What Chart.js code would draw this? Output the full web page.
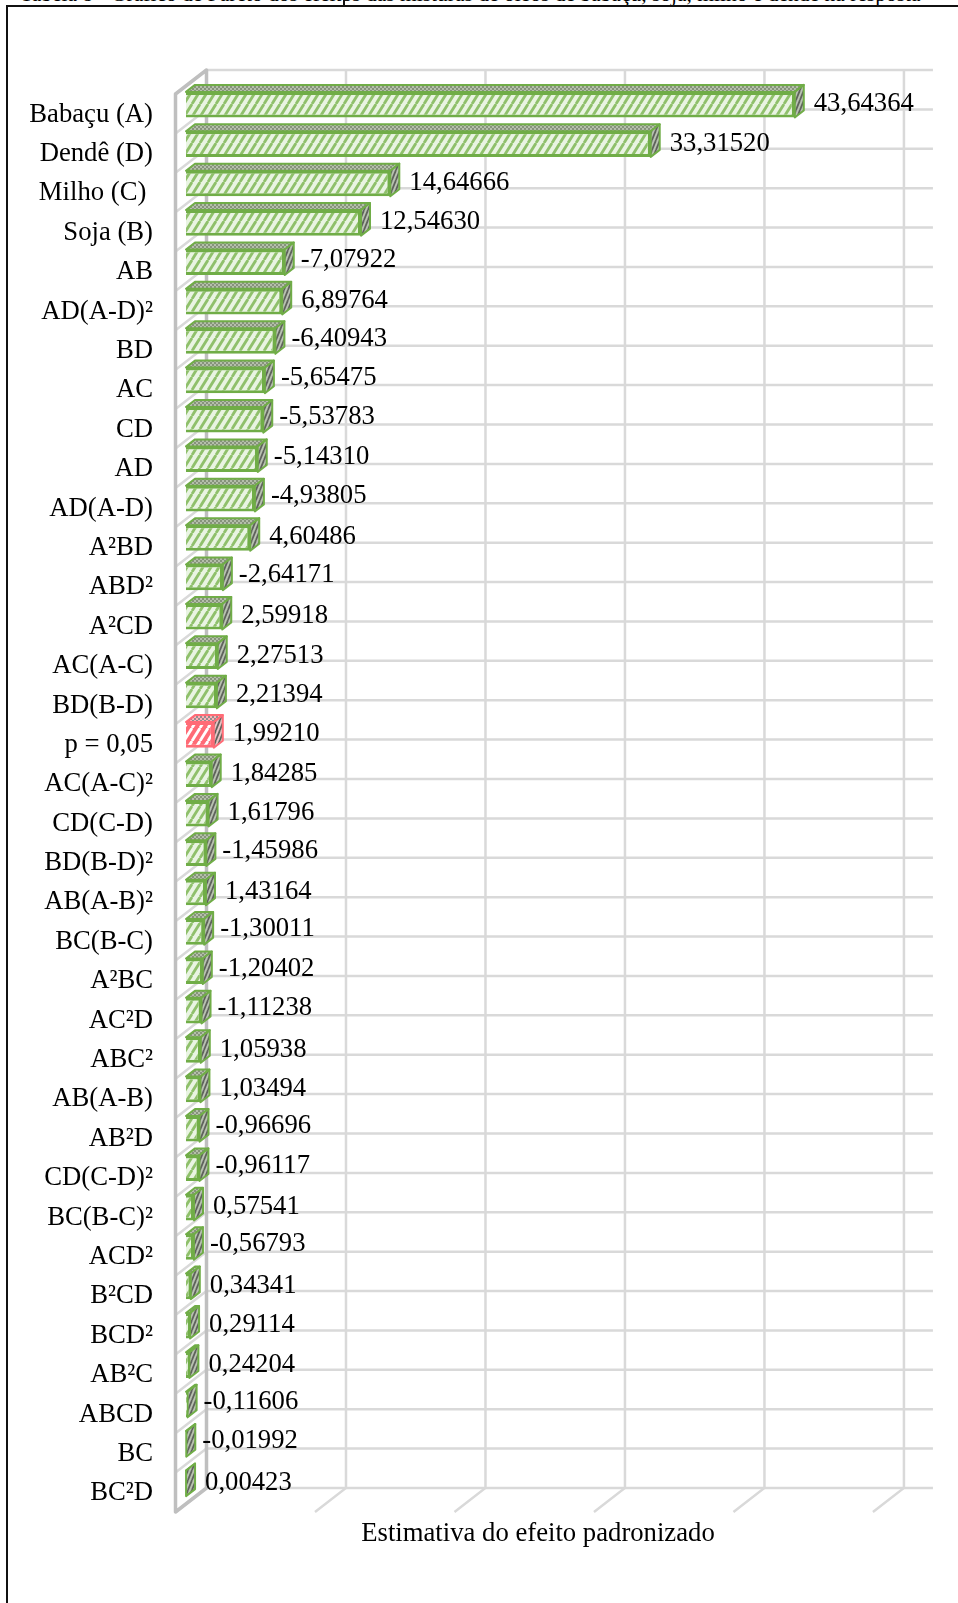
<!DOCTYPE html>
<html lang="pt">

<head>
    <meta charset="UTF-8">
    <title>Estimativa do efeito padronizado</title>
    <script src="https://cdn.jsdelivr.net/npm/chart.js@4/dist/chart.umd.min.js"></script>
    <style>
        html, body { margin: 0; background: #fff; overflow: hidden; }
        #page { position: relative; width: 958px; height: 1603px; overflow: hidden; }
        #caption { position: absolute; left: 20px; top: -18px; white-space: nowrap; font: 21.5px "Liberation Serif", serif; color: #000; }
        #box { position: absolute; left: 6px; top: 5px; width: 960px; height: 1610px; border: 2px solid #111; }
        #notch { position: absolute; left: 343px; top: 0; width: 2px; height: 6px; background: #111; }
        canvas { position: absolute; left: 0; top: 0; }
    </style>
</head>

<body>
    <div id="page">
        <div id="caption">Tabela 8 - Gráfico de Pareto dos efeitos das misturas de óleos de babaçu, soja, milho e dendê na resposta</div>
        <div id="notch"></div>
        <div id="box"></div>
        <canvas id="chart" width="958" height="1603"></canvas>
    </div>
    <script>
        const categories = ['Babaçu (A)', 'Dendê (D)', 'Milho (C) ', 'Soja (B)', 'AB', 'AD(A-D)²', 'BD', 'AC', 'CD', 'AD',
            'AD(A-D)', 'A²BD', 'ABD²', 'A²CD', 'AC(A-C)', 'BD(B-D)', 'p = 0,05', 'AC(A-C)²', 'CD(C-D)', 'BD(B-D)²',
            'AB(A-B)²', 'BC(B-C)', 'A²BC', 'AC²D', 'ABC²', 'AB(A-B)', 'AB²D', 'CD(C-D)²', 'BC(B-C)²', 'ACD²',
            'B²CD', 'BCD²', 'AB²C', 'ABCD', 'BC', 'BC²D'];
        const effects = [43.64364, 33.31520, 14.64666, 12.54630, -7.07922, 6.89764, -6.40943, -5.65475, -5.53783, -5.14310,
            -4.93805, 4.60486, -2.64171, 2.59918, 2.27513, 2.21394, 1.99210, 1.84285, 1.61796, -1.45986,
            1.43164, -1.30011, -1.20402, -1.11238, 1.05938, 1.03494, -0.96696, -0.96117, 0.57541, -0.56793,
            0.34341, 0.29114, 0.24204, -0.11606, -0.01992, 0.00423];
        const wallTicks = [0, 10, 20, 30, 40, 50];
        const axisTitle = 'Estimativa do efeito padronizado';
        const pLimit = 'p = 0,05';

        const serif = '"Liberation Serif", serif';
        const fontSize = 26.7;
        const green = '#70ad47';
        const red = '#ff6b76';

        // tiled fills, like the Excel pattern fills on the bars
        function stripes(fg, bg, w, h, width) {
            const c = document.createElement('canvas');
            c.width = w;
            c.height = h;
            const g = c.getContext('2d');
            g.fillStyle = bg;
            g.fillRect(0, 0, w, h);
            g.strokeStyle = fg;
            g.lineWidth = width;
            [-w, 0, w].forEach(d => {
                g.beginPath();
                g.moveTo(d, h);
                g.lineTo(d + w, 0);
                g.stroke();
            });
            return g.createPattern(c, 'repeat');
        }

        function dots(fg, bg) {
            const c = document.createElement('canvas');
            c.width = c.height = 4;
            const g = c.getContext('2d');
            g.fillStyle = bg;
            g.fillRect(0, 0, 4, 4);
            g.fillStyle = fg;
            g.fillRect(0, 0, 2, 2);
            g.fillRect(2, 2, 2, 2);
            return g.createPattern(c, 'repeat');
        }

        const hatchGreen = stripes('#8fc06b', '#e9f4e2', 8, 13, 2.8);
        const hatchRed = stripes('#ffffff', '#ff6b76', 8, 13, 2.8);
        const topGreen = dots('#86937b', '#b4bfaa');
        const topRed = dots('#8f8f8f', '#ffb0b6');
        const sideGreen = stripes('#5f635c', '#b9c2b2', 4, 10, 1.8);
        const sideRed = stripes('#5f635c', '#e8c4c6', 4, 10, 1.8);

        const isLimit = i => categories[i] === pLimit;

        function poly(ctx, pts, fill, stroke, width) {
            ctx.beginPath();
            pts.forEach((p, i) => i ? ctx.lineTo(p[0], p[1]) : ctx.moveTo(p[0], p[1]));
            ctx.closePath();
            if (fill) { ctx.fillStyle = fill; ctx.fill(); }
            if (stroke) { ctx.strokeStyle = stroke; ctx.lineWidth = width; ctx.lineJoin = 'round'; ctx.stroke(); }
        }

        // back wall, floor and side wall of the fake 3D box, then the bar tops and sides
        const box3d = {
            id: 'box3d',
            beforeDatasetsDraw(chart) {
                const ctx = chart.ctx, xs = chart.scales.x, ys = chart.scales.y;
                const backX = v => xs.getPixelForValue(v) + 20.5;
                const rowH = (ys.bottom - ys.top) / categories.length;
                const backTop = ys.top - 15;
                const backBottom = ys.bottom - 15;
                const wallEnd = backX(wallTicks[wallTicks.length - 1]) + 29;
                const depthX = -31, depthY = 24;

                ctx.save();
                ctx.strokeStyle = '#d9d9d9';
                ctx.lineWidth = 2.5;
                for (let k = 0; k <= categories.length; k++) {
                    const y = backTop + k * rowH;
                    ctx.beginPath();
                    ctx.moveTo(backX(0), y);
                    ctx.lineTo(wallEnd, y);
                    ctx.stroke();
                    ctx.beginPath();
                    ctx.moveTo(backX(0), y);
                    ctx.lineTo(backX(0) + depthX, y + depthY);
                    ctx.stroke();
                }
                wallTicks.forEach(v => {
                    ctx.beginPath();
                    ctx.moveTo(backX(v), backTop);
                    ctx.lineTo(backX(v), backBottom);
                    ctx.lineTo(backX(v) + depthX, backBottom + depthY);
                    ctx.stroke();
                });
                poly(ctx, [[backX(0) + depthX, backTop + depthY], [backX(0), backTop], [backX(0), backBottom],
                    [backX(0) + depthX, backBottom + depthY]], null, '#bfbfbf', 3.5);

                chart.getDatasetMeta(0).data.forEach((bar, i) => {
                    const top = bar.y - bar.height / 2, bottom = bar.y + bar.height / 2;
                    const edge = isLimit(i) ? red : green;
                    poly(ctx, [[bar.base, top], [bar.base + 9, top - 7], [bar.x + 9, top - 7], [bar.x, top]],
                        isLimit(i) ? topRed : topGreen, edge, 2);
                    poly(ctx, [[bar.x, top], [bar.x + 9, top - 7], [bar.x + 9, bottom - 7], [bar.x, bottom]],
                        isLimit(i) ? sideRed : sideGreen, edge, 2);
                });
                ctx.restore();
            },
            afterDatasetsDraw(chart) {
                const ctx = chart.ctx;
                ctx.save();
                ctx.font = fontSize + 'px ' + serif;
                ctx.fillStyle = '#000';
                ctx.textAlign = 'left';
                ctx.textBaseline = 'middle';
                chart.getDatasetMeta(0).data.forEach((bar, i) => {
                    const text = effects[i].toFixed(5).replace('.', ',');
                    const neg = effects[i] < 0;
                    ctx.fillText(text, bar.x + (neg ? 16 : 19), bar.y - (neg ? 2.5 : 0.5));
                });
                ctx.restore();
            }
        };

        new Chart(document.getElementById('chart').getContext('2d'), {
            type: 'bar',
            data: {
                labels: categories,
                datasets: [{
                    data: effects.map(Math.abs),
                    backgroundColor: categories.map((c, i) => isLimit(i) ? hatchRed : hatchGreen),
                    borderColor: categories.map((c, i) => isLimit(i) ? red : green),
                    borderWidth: 3,
                    categoryPercentage: 0.65,
                    barPercentage: 1
                }]
            },
            plugins: [box3d],
            options: {
                indexAxis: 'y',
                responsive: false,
                animation: false,
                layout: { padding: { top: 85, right: 68, left: 0, bottom: 0 } },
                plugins: { legend: { display: false }, tooltip: { enabled: false } },
                scales: {
                    x: {
                        min: 0,
                        max: 50.47,
                        grid: { display: false },
                        border: { display: false },
                        ticks: { display: false },
                        afterFit: s => { s.height = 100; },
                        title: {
                            display: true,
                            text: axisTitle,
                            color: '#000',
                            font: { family: serif, size: fontSize },
                            padding: { top: 0, bottom: 53 }
                        }
                    },
                    y: {
                        grid: { display: false },
                        border: { display: false },
                        afterFit: s => { s.width = 186; },
                        ticks: {
                            color: '#000',
                            font: { family: serif, size: fontSize },
                            padding: 25,
                            labelOffset: 10,
                            autoSkip: false
                        }
                    }
                }
            }
        });
    </script>
</body>

</html>
